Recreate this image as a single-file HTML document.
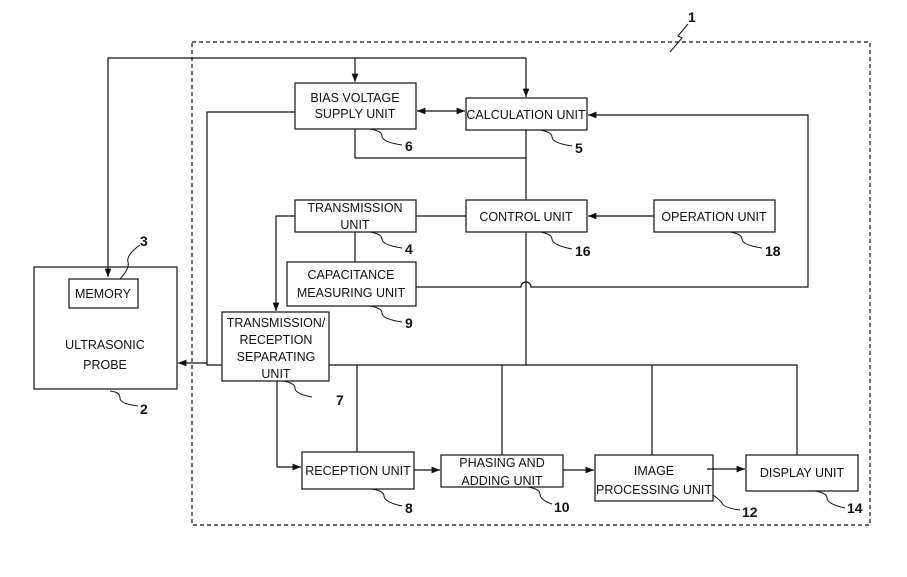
<!DOCTYPE html>
<html><head><style>body{margin:0;background:#fff}svg{display:block}text{font-family:"Liberation Sans",sans-serif;font-size:12.5px;fill:#111}.n{font-size:14px;font-weight:bold}</style></head><body>
<svg width="907" height="577" viewBox="0 0 907 577" xmlns="http://www.w3.org/2000/svg">
<defs><marker id="a" viewBox="0 0 10 10" refX="10" refY="5" markerWidth="7" markerHeight="7" orient="auto-start-reverse"><path d="M0,1 L10,5 L0,9 z" fill="#111"/></marker></defs>
<g fill="none" stroke="#111" stroke-width="1.2">
<rect x="192" y="42" width="678" height="483" stroke-dasharray="4,3"/>
<rect x="34" y="267" width="143" height="122"/>
<rect x="69" y="279" width="69" height="29"/>
<rect x="295" y="83" width="121" height="46"/>
<rect x="466" y="98" width="121" height="32"/>
<rect x="295" y="200" width="121" height="32"/>
<rect x="466" y="200" width="121" height="32"/>
<rect x="654" y="200" width="121" height="32"/>
<rect x="287" y="262" width="129" height="44"/>
<rect x="222" y="312" width="107" height="69"/>
<rect x="302" y="452" width="112" height="37"/>
<rect x="441" y="455" width="122" height="32"/>
<rect x="595" y="455" width="118" height="46"/>
<rect x="746" y="455" width="112" height="36"/>
<path d="M526,58 H108 V277" marker-end="url(#a)"/>
<path d="M355,58 V82" marker-end="url(#a)"/>
<path d="M526,58 V97" marker-end="url(#a)"/>
<path d="M417,111 H465" marker-start="url(#a)" marker-end="url(#a)"/>
<path d="M355,129 V158 H526"/>
<path d="M526,130 V200"/>
<path d="M295,112 H207 V365 H222"/>
<path d="M207,363 H178" marker-end="url(#a)"/>
<path d="M416,216 H466"/>
<path d="M654,216 H588" marker-end="url(#a)"/>
<path d="M295,216 H276 V311" marker-end="url(#a)"/>
<path d="M355,232 V262"/>
<path d="M416,287 H521 A5,5 0 0 1 531,287 H808 V115 H588" marker-end="url(#a)"/>
<path d="M526,232 V365"/>
<path d="M329,365 H797 V455"/>
<path d="M357,365 V452 M502,365 V455 M652,365 V455"/>
<path d="M277,381 V467 H301" marker-end="url(#a)"/>
<path d="M414,470 H440" marker-end="url(#a)"/>
<path d="M563,470 H594" marker-end="url(#a)"/>
<path d="M707,469 H745" marker-end="url(#a)"/>
<g stroke-width="1">
<path d="M670,52 L682,38 L678,36 L688,24"/>
<path d="M120,279 Q130,268 128,262 Q126,255 140,245"/>
<path d="M110,391 Q120,392 120,398 Q120,404 138,406"/>
<path d="M370,129 Q382,131 382,136 Q382,142 402,145"/>
<path d="M540,130 Q552,132 552,137 Q552,143 572,146"/>
<path d="M370,232 Q382,234 382,239 Q382,245 402,248"/>
<path d="M540,232 Q552,234 552,239 Q552,245 572,249"/>
<path d="M730,232 Q742,234 742,239 Q742,245 762,248"/>
<path d="M370,306 Q382,308 382,313 Q382,319 402,322"/>
<path d="M283,381 Q295,383 295,388 Q295,394 312,397"/>
<path d="M372,489 Q384,491 384,496 Q384,502 402,506"/>
<path d="M528,487 Q540,489 540,494 Q540,500 552,504"/>
<path d="M713,495 Q720,500 722,503 Q724,508 740,510"/>
<path d="M815,491 Q827,493 827,498 Q827,504 845,508"/>
</g>
</g>
<g text-anchor="middle">
<text x="103" y="298">MEMORY</text>
<text x="105" y="349">ULTRASONIC</text><text x="105" y="369">PROBE</text>
<text x="355" y="102">BIAS VOLTAGE</text><text x="355" y="118">SUPPLY UNIT</text>
<text x="526" y="119">CALCULATION UNIT</text>
<text x="355" y="212">TRANSMISSION</text><text x="355" y="229">UNIT</text>
<text x="526" y="221">CONTROL UNIT</text>
<text x="714" y="221">OPERATION UNIT</text>
<text x="351" y="279">CAPACITANCE</text><text x="351" y="297">MEASURING UNIT</text>
<text x="276" y="327">TRANSMISSION/</text><text x="276" y="344">RECEPTION</text><text x="276" y="361">SEPARATING</text><text x="276" y="378">UNIT</text>
<text x="358" y="475">RECEPTION UNIT</text>
<text x="502" y="467">PHASING AND</text><text x="502" y="485">ADDING UNIT</text>
<text x="654" y="475">IMAGE</text><text x="654" y="494">PROCESSING UNIT</text>
<text x="802" y="477">DISPLAY UNIT</text>
</g>
<text class="n" x="688" y="22">1</text>
<text class="n" x="140" y="246">3</text>
<text class="n" x="140" y="414">2</text>
<text class="n" x="405" y="151">6</text>
<text class="n" x="575" y="153">5</text>
<text class="n" x="405" y="254">4</text>
<text class="n" x="575" y="256">16</text>
<text class="n" x="765" y="256">18</text>
<text class="n" x="405" y="328">9</text>
<text class="n" x="336" y="405">7</text>
<text class="n" x="405" y="513">8</text>
<text class="n" x="554" y="512">10</text>
<text class="n" x="742" y="517">12</text>
<text class="n" x="847" y="513">14</text>
</svg>
</body></html>
